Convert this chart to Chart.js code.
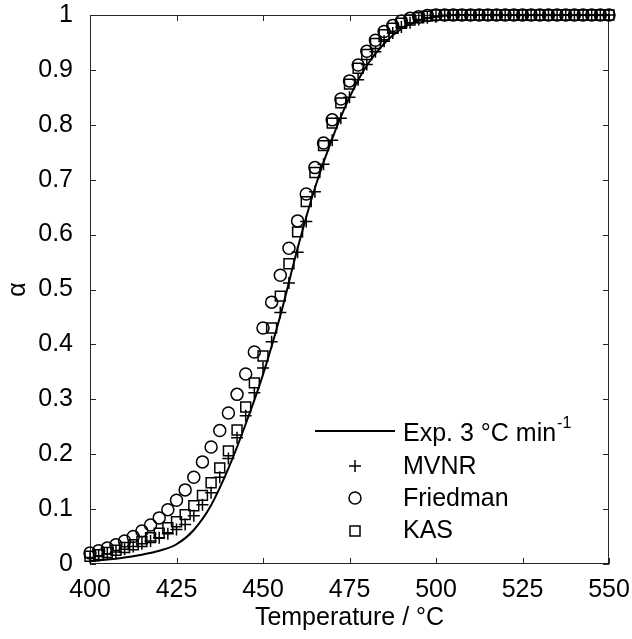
<!DOCTYPE html>
<html>
<head>
<meta charset="utf-8">
<script src="https://cdn.jsdelivr.net/npm/chart.js@4.4.1/dist/chart.umd.min.js"></script>
<style>
  html, body { margin: 0; padding: 0; background: #fff; }
  #wrap { width: 632px; height: 639px; }
</style>
</head>
<body>
<div id="wrap"><canvas id="alphaChart" width="632" height="639"></canvas></div>
<script>
// temperatures of the model points (°C)
const modelTemps = [400, 402.5, 405, 407.5, 410, 412.5, 415, 417.5, 420, 422.5,
    425, 427.5, 430, 432.5, 435, 437.5, 440, 442.5, 445, 447.5,
    450, 452.5, 455, 457.5, 460, 462.5, 465, 467.5, 470, 472.5,
    475, 477.5, 480, 482.5, 485, 487.5, 490, 492.5, 495, 497.5,
    500, 502.5, 505, 507.5, 510, 512.5, 515, 517.5, 520, 522.5,
    525, 527.5, 530, 532.5, 535, 537.5, 540, 542.5, 545, 547.5, 550];

const mvnr = [0.012, 0.015, 0.018, 0.022, 0.027, 0.032, 0.037, 0.042, 0.048, 0.055,
    0.063, 0.072, 0.088, 0.108, 0.130, 0.158, 0.192, 0.230, 0.270, 0.312,
    0.357, 0.405, 0.458, 0.512, 0.568, 0.624, 0.678, 0.728, 0.772, 0.812,
    0.850, 0.882, 0.910, 0.933, 0.952, 0.967, 0.978, 0.986, 0.992, 0.995,
    0.997, 0.999, 1, 1, 1, 1, 1, 1, 1, 1,
    1, 1, 1, 1, 1, 1, 1, 1, 1, 1, 1];

const friedman = [0.020, 0.024, 0.029, 0.035, 0.042, 0.050, 0.060, 0.071, 0.084, 0.099,
    0.116, 0.135, 0.158, 0.186, 0.213, 0.243, 0.275, 0.309, 0.346, 0.386,
    0.430, 0.477, 0.526, 0.575, 0.625, 0.674, 0.722, 0.767, 0.809, 0.847,
    0.880, 0.909, 0.934, 0.954, 0.970, 0.981, 0.989, 0.994, 0.997, 0.999,
    1, 1, 1, 1, 1, 1, 1, 1, 1, 1,
    1, 1, 1, 1, 1, 1, 1, 1, 1, 1, 1];

const kas = [0.014, 0.017, 0.021, 0.025, 0.030, 0.035, 0.041, 0.048, 0.056, 0.066,
    0.077, 0.090, 0.106, 0.125, 0.148, 0.175, 0.206, 0.244, 0.286, 0.330,
    0.379, 0.430, 0.488, 0.547, 0.605, 0.660, 0.713, 0.762, 0.803, 0.840,
    0.874, 0.903, 0.928, 0.948, 0.964, 0.976, 0.985, 0.991, 0.995, 0.998,
    1, 1, 1, 1, 1, 1, 1, 1, 1, 1,
    1, 1, 1, 1, 1, 1, 1, 1, 1, 1, 1];

// experimental curve, 3 °C/min
const expTemps = [400, 405, 410, 415, 420, 425, 430, 435, 440, 445,
    450, 455, 460, 465, 470, 475, 480, 485, 490, 495,
    500, 505, 510, 515, 520, 525, 530, 535, 540, 545, 550];
const expAlpha = [0.005, 0.008, 0.012, 0.017, 0.024, 0.036, 0.062, 0.107, 0.174, 0.255,
    0.345, 0.452, 0.575, 0.685, 0.775, 0.850, 0.908, 0.948, 0.975, 0.990,
    0.997, 1, 1, 1, 1, 1, 1, 1, 1, 1, 1];

const xTicks = [400, 425, 450, 475, 500, 525, 550];
const yTicks = [0, 0.1, 0.2, 0.3, 0.4, 0.5, 0.6, 0.7, 0.8, 0.9, 1];

const FONT = "'Liberation Sans', Arial, sans-serif";
Chart.defaults.font.family = FONT;
Chart.defaults.color = '#000';

function pts(xs, ys) {
    return xs.map((x, i) => ({ x: x, y: ys[i] }));
}

// inward ticks on all four sides + box
const boxTicks = {
    id: 'boxTicks',
    beforeDatasetsDraw(chart) {
        const { ctx, chartArea: a, scales } = chart;
        ctx.save();
        ctx.strokeStyle = '#262626';
        ctx.lineWidth = 1;
        ctx.strokeRect(a.left + 0.5, a.top + 0.5, a.right - a.left - 1, a.bottom - a.top - 1);
        ctx.beginPath();
        xTicks.forEach(v => {
            const px = Math.round(scales.x.getPixelForValue(v)) + 0.5;
            ctx.moveTo(px, a.bottom); ctx.lineTo(px, a.bottom - 6);
            ctx.moveTo(px, a.top); ctx.lineTo(px, a.top + 6);
        });
        yTicks.forEach(v => {
            const py = Math.round(scales.y.getPixelForValue(v)) + 0.5;
            ctx.moveTo(a.left, py); ctx.lineTo(a.left + 6, py);
            ctx.moveTo(a.right, py); ctx.lineTo(a.right - 6, py);
        });
        ctx.stroke();
        ctx.restore();
    }
};

// legend in the lower right corner
const boxLegend = {
    id: 'boxLegend',
    afterDraw(chart) {
        const ctx = chart.ctx;
        ctx.save();
        ctx.fillStyle = '#000';
        ctx.strokeStyle = '#000';
        ctx.font = '25px ' + FONT;
        ctx.textBaseline = 'middle';
        ctx.textAlign = 'left';
        const tx = 403, mx = 355;
        // line sample
        ctx.lineWidth = 2;
        ctx.beginPath(); ctx.moveTo(315, 431); ctx.lineTo(395, 431); ctx.stroke();
        ctx.fillText('Exp. 3 °C min', tx, 434);
        const w = ctx.measureText('Exp. 3 °C min').width;
        ctx.font = '16px ' + FONT;
        ctx.fillText('-1', tx + w + 1, 424);
        ctx.font = '25px ' + FONT;
        ctx.lineWidth = 1.5;
        // +
        ctx.beginPath();
        ctx.moveTo(mx - 6, 466); ctx.lineTo(mx + 6, 466);
        ctx.moveTo(mx, 460); ctx.lineTo(mx, 472);
        ctx.stroke();
        ctx.fillText('MVNR', tx, 467);
        // o
        ctx.beginPath(); ctx.arc(mx, 498, 6, 0, Math.PI * 2); ctx.stroke();
        ctx.fillText('Friedman', tx, 499);
        // square
        ctx.strokeRect(mx - 5, 526, 10, 10);
        ctx.fillText('KAS', tx, 531);
        ctx.restore();
    }
};

new Chart(document.getElementById('alphaChart'), {
    type: 'scatter',
    data: {
        datasets: [
            {
                label: 'Exp. 3 °C min-1',
                type: 'line',
                data: pts(expTemps, expAlpha),
                borderColor: '#000',
                borderWidth: 2,
                pointRadius: 0,
                cubicInterpolationMode: 'monotone',
                fill: false,
                clip: false
            },
            {
                label: 'MVNR',
                data: pts(modelTemps, mvnr),
                pointStyle: 'cross',
                pointRadius: 6,
                borderColor: '#000',
                borderWidth: 1.5,
                backgroundColor: 'transparent',
                clip: false
            },
            {
                label: 'Friedman',
                data: pts(modelTemps, friedman),
                pointStyle: 'circle',
                pointRadius: 6,
                borderColor: '#000',
                borderWidth: 1.5,
                backgroundColor: 'transparent',
                clip: false
            },
            {
                label: 'KAS',
                data: pts(modelTemps, kas),
                pointStyle: 'rect',
                pointRadius: 7,
                borderColor: '#000',
                borderWidth: 1.5,
                backgroundColor: 'transparent',
                clip: false
            }
        ]
    },
    options: {
        responsive: false,
        animation: false,
        devicePixelRatio: 1,
        layout: { padding: { top: 15, right: 23, left: 0, bottom: 0 } },
        plugins: {
            legend: { display: false },
            tooltip: { enabled: false }
        },
        scales: {
            x: {
                type: 'linear',
                min: 400,
                max: 550,
                afterFit: s => { s.height = 75; s.paddingLeft = 0; s.paddingRight = 0; },
                afterBuildTicks: s => { s.ticks = xTicks.map(v => ({ value: v })); },
                ticks: { font: { size: 25 }, color: '#000', padding: 3, maxRotation: 0 },
                grid: { display: false },
                border: { display: false },
                title: {
                    display: true,
                    text: 'Temperature / °C',
                    font: { size: 25 },
                    color: '#000',
                    padding: { top: 0, bottom: 6 }
                }
            },
            y: {
                min: 0,
                max: 1,
                afterFit: s => { s.width = 90; s.paddingTop = 0; s.paddingBottom = 0; },
                afterBuildTicks: s => { s.ticks = yTicks.map(v => ({ value: v })); },
                ticks: {
                    font: { size: 25 },
                    color: '#000',
                    padding: 9,
                    callback: v => String(Number(v.toFixed(1)))
                },
                grid: { display: false },
                border: { display: false },
                title: {
                    display: true,
                    text: 'α',
                    font: { size: 25 },
                    color: '#000',
                    padding: { top: 3, bottom: 0 }
                }
            }
        }
    },
    plugins: [boxTicks, boxLegend]
});
</script>
</body>
</html>
